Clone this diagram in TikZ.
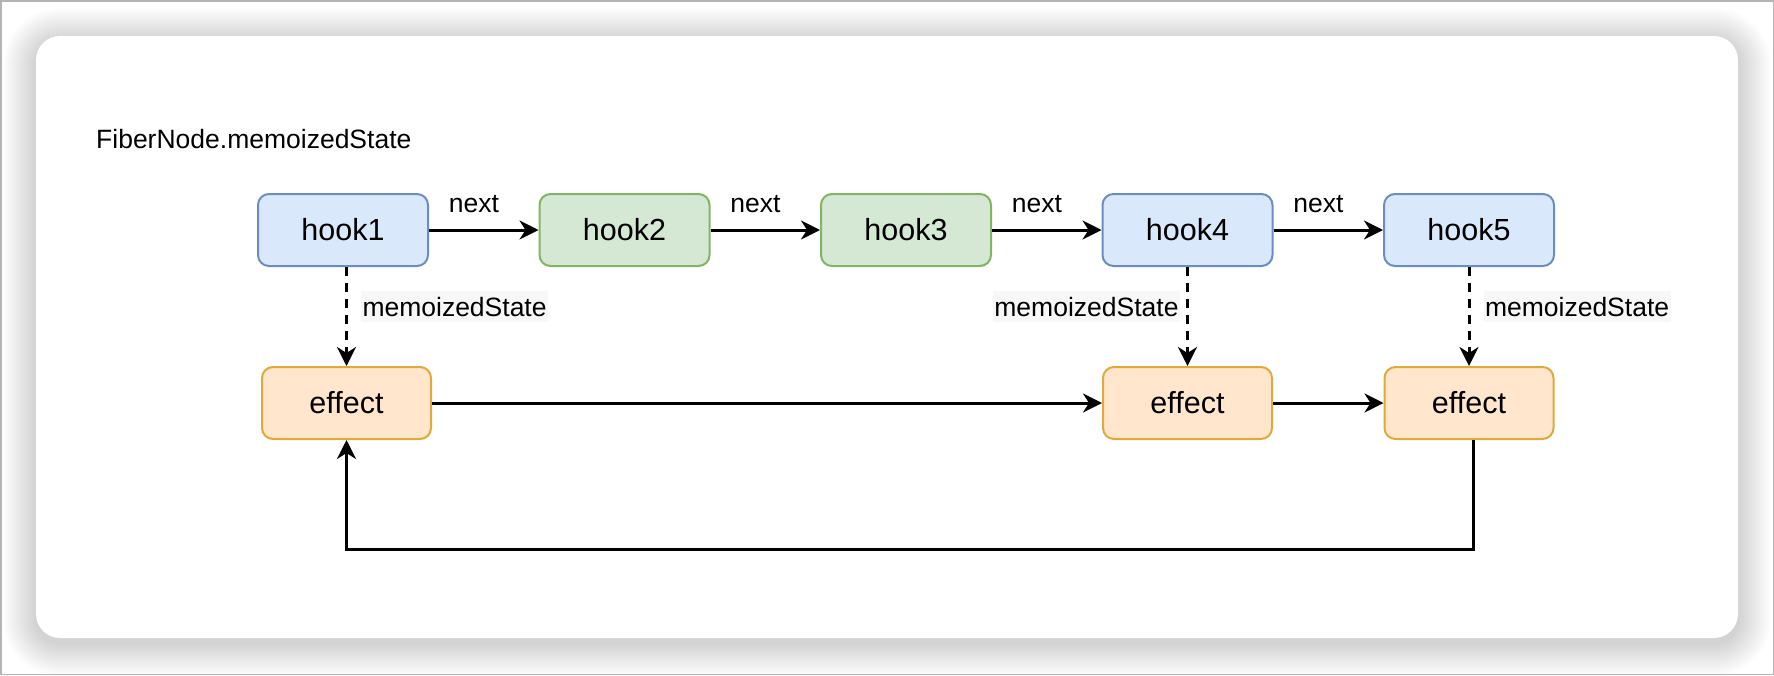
\documentclass[tikz,border=0pt]{standalone}
\usepackage{fontspec}
\setmainfont{Liberation Sans}
\usetikzlibrary{arrows.meta}
\definecolor{bluefill}{HTML}{DAE8FC}
\definecolor{bluedraw}{HTML}{6C8EBF}
\definecolor{greenfill}{HTML}{D5E8D4}
\definecolor{greendraw}{HTML}{82B366}
\definecolor{orangefill}{HTML}{FFE6CC}
\definecolor{orangedraw}{HTML}{E0AA3A}
\definecolor{lblbg}{HTML}{F7F7F7}
\definecolor{frame}{HTML}{B4B4B4}
\tikzset{
  box/.style={rectangle, rounded corners=11pt, line width=2pt, minimum width=170pt,
    minimum height=72pt, inner sep=0pt, font=\fontsize{30.5pt}{36pt}\selectfont},
  bluebox/.style={box, fill=bluefill, draw=bluedraw},
  greenbox/.style={box, fill=greenfill, draw=greendraw},
  effbox/.style={box, fill=orangefill, draw=orangedraw, minimum width=169pt},
  arr/.style={line width=3pt, -{Stealth[length=19pt,width=19pt,inset=6pt]}},
  dasharr/.style={arr, dash pattern=on 9pt off 7pt},
  small/.style={font=\fontsize{26.5pt}{31pt}\selectfont, inner sep=0pt},
  memolbl/.style={small, fill=lblbg, inner xsep=1.5pt, inner ysep=6pt},
}
\begin{document}
\begin{tikzpicture}[x=1pt,y=-1pt]
\useasboundingbox (0,0) rectangle (1774,675);
\fill[white] (0,0) rectangle (1774,675);
% shadow of the card
\foreach \i in {1,...,22}{
  \pgfmathsetmacro\rr{24+1.5*\i}
  \fill[black, opacity=0.0075, rounded corners=\rr pt]
    ({36-1.5*\i},{41-1.5*\i}) rectangle ({1738+1.5*\i},{643+1.5*\i});
}
\fill[white, rounded corners=24pt] (36,36) rectangle (1738,638);
\draw[frame, line width=1.5pt] (0.75,0.75) rectangle (1773.25,674.25);

% title
\node[small, anchor=west] (title) at (96,139) {FiberNode.memoizedState};

% hooks
\node[bluebox]  (h1) at (343,230)    {hook1};
\node[greenbox] (h2) at (624.5,230)  {hook2};
\node[greenbox] (h3) at (906,230)    {hook3};
\node[bluebox]  (h4) at (1187.5,230) {hook4};
\node[bluebox]  (h5) at (1469,230)   {hook5};

% effects
\node[effbox] (e1) at (346.5,403)  {effect};
\node[effbox] (e4) at (1187.5,403) {effect};
\node[effbox] (e5) at (1469,403)   {effect};

% next arrows
\draw[arr] (h1) -- node[small, anchor=base, pos=0.41, yshift=18pt] {next} (h2);
\draw[arr] (h2) -- node[small, anchor=base, pos=0.41, yshift=18pt] {next} (h3);
\draw[arr] (h3) -- node[small, anchor=base, pos=0.41, yshift=18pt] {next} (h4);
\draw[arr] (h4) -- node[small, anchor=base, pos=0.41, yshift=18pt] {next} (h5);

% memoizedState arrows
\draw[dasharr] (e1.north |- h1.south) -- node[memolbl, pos=0.4, anchor=west, xshift=13pt] {memoizedState} (e1.north);
\draw[dasharr] (h4.south) -- node[memolbl, pos=0.4, anchor=east, xshift=-6pt] {memoizedState} (e4.north);
\draw[dasharr] (h5.south) -- node[memolbl, pos=0.4, anchor=west, xshift=13pt] {memoizedState} (e5.north);

% effect chain
\draw[arr] (e1) -- (e4);
\draw[arr] (e4) -- (e5);
\coordinate (loopstart) at ([xshift=4pt]e5.south);
\draw[arr] (loopstart) -- ++(0,109) -| (e1.south);
\end{tikzpicture}
\end{document}
